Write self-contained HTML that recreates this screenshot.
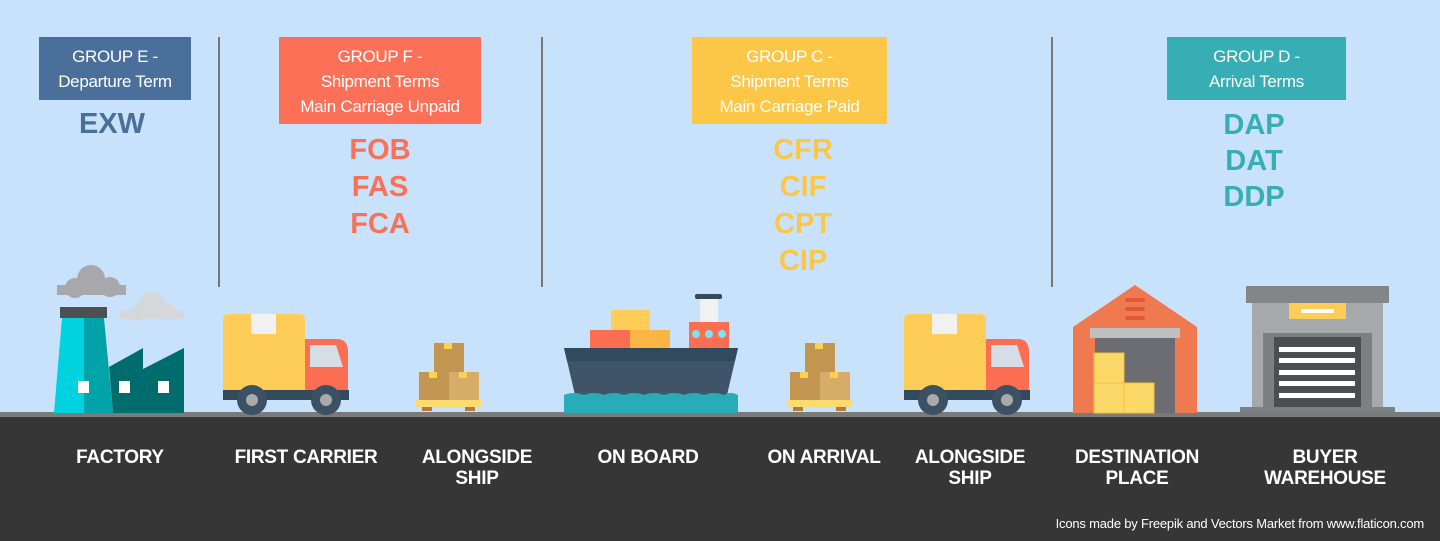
<!DOCTYPE html>
<html><head><meta charset="utf-8"><style>
body{margin:0}
#p{position:relative;width:1440px;height:541px;background:#c9e2fb;overflow:hidden;font-family:"Liberation Sans",sans-serif}
.h{position:absolute;color:#fff;font-size:17px;line-height:25px;text-align:center;padding-top:7px;box-sizing:border-box;letter-spacing:-0.3px}
.c{position:absolute;font-weight:bold;font-size:29px;line-height:37px;text-align:center;width:140px}
.l{position:absolute;color:#fff;font-weight:bold;font-size:19px;line-height:21px;text-align:center;width:200px;letter-spacing:-0.3px}
</style></head><body><div id="p">
<svg width="1440" height="541" style="position:absolute;left:0;top:0">
<rect x="0" y="412" width="1440" height="5" fill="#7a7a7a"/>
<rect x="0" y="417" width="1440" height="124" fill="#363636"/>
<g fill="#777"><rect x="218" y="37" width="2" height="250"/><rect x="541" y="37" width="2" height="250"/><rect x="1051" y="37" width="2" height="250"/></g>
<g fill="#a8a7ab"><circle cx="91" cy="279" r="14"/><circle cx="75" cy="288" r="10"/><circle cx="110" cy="287" r="10"/><rect x="57" y="285" width="69" height="10"/></g>
<g fill="#d6d7da"><circle cx="152" cy="305" r="13"/><circle cx="137" cy="313" r="8"/><circle cx="168" cy="312" r="8"/><rect x="120" y="311" width="64" height="8"/></g>
<rect x="60" y="307" width="47" height="11" fill="#4e4f52"/>
<polygon points="62,318 84,318 84,413 54,413" fill="#00d2e0"/>
<polygon points="84,318 104,318 113,413 84,413" fill="#00a3a8"/>
<polygon points="109,367 143,348 143,369 184,348 184,413 113,413" fill="#006c6e"/>
<g fill="#fff"><rect x="78" y="381" width="11" height="12"/><rect x="119" y="381" width="11" height="12"/><rect x="158" y="381" width="11" height="12"/></g>
<g id="tr">
<rect x="223" y="314" width="82" height="80" rx="5" fill="#fecd57"/>
<rect x="251" y="314" width="25" height="20" fill="#f1f1f1"/>
<path d="M305 339 H337 Q347 339 348 350 V392 H305Z" fill="#fc6e51"/>
<polygon points="310,345 336,345 343,367 310,367" fill="#d5dde6"/>
<rect x="223" y="390" width="126" height="10" fill="#324a5e"/>
<circle cx="252" cy="400" r="15" fill="#3c5164"/><circle cx="252" cy="400" r="6" fill="#aaa"/>
<circle cx="326" cy="400" r="15" fill="#3c5164"/><circle cx="326" cy="400" r="6" fill="#aaa"/>
</g>
<use href="#tr" x="681" y="0"/>
<g id="bx">
<rect x="434" y="343" width="30" height="30" fill="#c29551"/>
<rect x="419" y="372" width="30" height="28" fill="#c29551"/>
<rect x="449" y="372" width="30" height="28" fill="#d6ac68"/>
<rect x="444" y="343" width="8" height="6" fill="#fdd04e"/><rect x="429" y="372" width="8" height="6" fill="#fdd04e"/><rect x="459" y="372" width="8" height="6" fill="#fdd04e"/>
<rect x="416" y="400" width="65" height="7" fill="#fddb6f"/>
<rect x="422" y="407" width="10" height="4" fill="#b07d3c"/><rect x="465" y="407" width="10" height="4" fill="#b07d3c"/>
</g>
<use href="#bx" x="371" y="0"/>
<rect x="611" y="310" width="39" height="21" fill="#fecd57"/>
<rect x="590" y="330" width="40" height="21" fill="#fc6e51"/>
<rect x="630" y="330" width="40" height="21" fill="#fcb544"/>
<rect x="700" y="297" width="18" height="26" fill="#f1f1f1"/>
<rect x="695" y="294" width="27" height="5" rx="2" fill="#324a5e"/>
<rect x="689" y="322" width="40" height="27" fill="#fc6e51"/>
<g fill="#7fe0f5"><circle cx="696" cy="334" r="4"/><circle cx="709" cy="334" r="4"/><circle cx="722" cy="334" r="4"/></g>
<polygon points="564,348 738,348 727,395 575,395" fill="#3f5469"/>
<polygon points="564,348 738,348 735,361 567,361" fill="#324a5e"/>
<path d="M564 395 Q574 391 584 395 Q594 391 604 395 Q614 391 624 395 Q634 391 644 395 Q654 391 664 395 Q674 391 684 395 Q694 391 704 395 Q714 391 724 395 Q731 391 738 395 V413 H564Z" fill="#2aacb8"/>
<polygon points="1073,327 1135,285 1197,327 1197,413 1073,413" fill="#ef7a4f"/>
<g fill="#e4563a"><rect x="1125" y="298" width="20" height="4" rx="2"/><rect x="1125" y="307" width="20" height="4" rx="2"/><rect x="1125" y="316" width="20" height="4" rx="2"/></g>
<rect x="1090" y="328" width="90" height="10" fill="#bdbfc1"/>
<rect x="1095" y="338" width="80" height="75" fill="#6c6d72"/>
<g fill="#fbd868" stroke="#f0c040"><rect x="1094" y="353" width="30" height="30"/><rect x="1094" y="383" width="30" height="30"/><rect x="1124" y="383" width="30" height="30"/></g>
<rect x="1252" y="303" width="131" height="107" fill="#a5a9ac"/>
<rect x="1246" y="286" width="143" height="17" fill="#828688"/>
<rect x="1289" y="303" width="57" height="16" fill="#fecd57"/>
<rect x="1301" y="309" width="33" height="4" fill="#fff"/>
<rect x="1263" y="333" width="109" height="77" fill="#7c8083"/>
<rect x="1274" y="337" width="87" height="73" fill="#4a4e51"/>
<g fill="#fff"><rect x="1279" y="347" width="76" height="5"/><rect x="1279" y="358" width="76" height="5"/><rect x="1279" y="370" width="76" height="5"/><rect x="1279" y="381" width="76" height="5"/><rect x="1279" y="393" width="76" height="5"/></g>
<rect x="1240" y="407" width="155" height="6" fill="#7c8083"/>
</svg>
<div class="h" style="left:39px;top:37px;width:152px;height:63px;background:#4a6f9a">GROUP E -<br>Departure Term</div>
<div class="h" style="left:279px;top:37px;width:202px;height:87px;background:#fd7058">GROUP F -<br>Shipment Terms<br>Main Carriage Unpaid</div>
<div class="h" style="left:692px;top:37px;width:195px;height:87px;background:#fcc747">GROUP C -<br>Shipment Terms<br>Main Carriage Paid</div>
<div class="h" style="left:1167px;top:37px;width:179px;height:63px;background:#36aeb4">GROUP D -<br>Arrival Terms</div>
<div class="c" style="left:42px;top:106px;color:#4a6f9a">EXW</div>
<div class="c" style="left:310px;top:132px;color:#fd7058">FOB<br>FAS<br>FCA</div>
<div class="c" style="left:733px;top:132px;color:#fcc747">CFR<br>CIF<br>CPT<br>CIP</div>
<div class="c" style="left:1184px;top:107px;color:#36aeb4;line-height:36px">DAP<br>DAT<br>DDP</div>
<div class="l" style="left:20px;top:447px">FACTORY</div>
<div class="l" style="left:206px;top:447px">FIRST CARRIER</div>
<div class="l" style="left:377px;top:447px">ALONGSIDE<br>SHIP</div>
<div class="l" style="left:548px;top:447px">ON BOARD</div>
<div class="l" style="left:724px;top:447px">ON ARRIVAL</div>
<div class="l" style="left:870px;top:447px">ALONGSIDE<br>SHIP</div>
<div class="l" style="left:1037px;top:447px">DESTINATION<br>PLACE</div>
<div class="l" style="left:1225px;top:447px">BUYER<br>WAREHOUSE</div>
<div style="position:absolute;right:16px;top:516px;color:#fff;font-size:13px;letter-spacing:-0.2px">Icons made by Freepik and Vectors Market from www.flaticon.com</div>
</div></body></html>
